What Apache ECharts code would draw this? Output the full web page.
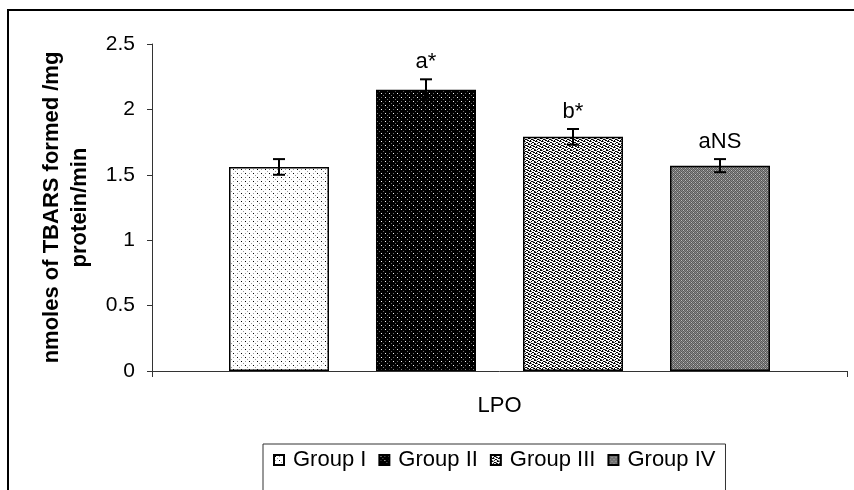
<!DOCTYPE html>
<html>
<head>
<meta charset="utf-8">
<script src="https://cdn.jsdelivr.net/npm/echarts@6/dist/echarts.min.js"></script>
<style>
  html, body { margin: 0; padding: 0; background: #fff; }
  #chart { width: 854px; height: 490px; }
</style>
</head>
<body>
<div id="chart"></div>
<script>
// LPO assay: TBARS formed per group, mean with standard error
const categories = ['LPO'];
const groups = ['Group I', 'Group II', 'Group III', 'Group IV'];
const means = [1.56, 2.15, 1.79, 1.57];
const errors = [0.06, 0.08, 0.06, 0.05];
const sigLabels = ['', 'a*', 'b*', 'aNS'];
const yTicks = [0, 0.5, 1, 1.5, 2, 2.5];

const FONT = "'Liberation Sans', Arial, sans-serif";
const BAR_W = 100;
const BAR_GAP = 47;

// Small tiled fills that give each group its stipple texture
function tile(size, bg, draw) {
  const c = document.createElement('canvas');
  c.width = size; c.height = size;
  const g = c.getContext('2d');
  g.fillStyle = bg;
  g.fillRect(0, 0, size, size);
  draw(g);
  return c;
}
function px(g, color, pts) {
  g.fillStyle = color;
  pts.forEach(p => g.fillRect(p[0], p[1], 1, 1));
}
const fills = [
  tile(8, '#ffffff', g => {
    px(g, '#000', [[1, 1], [5, 5]]);
    px(g, '#9a9a9a', [[1, 5], [5, 1], [3, 3], [7, 7]]);
  }),
  tile(8, '#000000', g => {
    px(g, '#ffffff', [[1, 1], [5, 5]]);
    px(g, '#6a6a6a', [[1, 5], [5, 1], [3, 3], [7, 7]]);
  }),
  tile(6, '#ffffff', g => {
    px(g, '#000', [[0, 0], [1, 0], [3, 1], [4, 1], [0, 2], [1, 3], [2, 3], [4, 4], [5, 4],
                   [3, 5], [2, 2], [5, 2], [0, 5]]);
    px(g, '#777', [[2, 0], [5, 1], [3, 3], [1, 5]]);
  }),
  tile(4, '#8a8a8a', g => {
    px(g, '#5a5a5a', [[0, 0], [2, 0], [1, 1], [3, 1], [0, 2], [2, 2], [1, 3], [3, 3]]);
    px(g, '#b8b8b8', [[1, 0], [3, 2]]);
  })
];

const barSeries = groups.map((name, i) => ({
  name: name,
  type: 'bar',
  barWidth: BAR_W,
  barGap: (BAR_GAP / BAR_W * 100) + '%',
  data: [means[i]],
  itemStyle: {
    color: { image: fills[i], repeat: 'repeat' },
    borderColor: '#000',
    borderWidth: 1.5
  },
  emphasis: { disabled: true },
  animation: false,
  z: 2
}));

const errData = means.map((m, i) => [0, m, errors[i], i]);

const errSeries = {
  type: 'custom',
  data: errData,
  z: 5,
  animation: false,
  renderItem: function (params, api) {
    const mean = api.value(1);
    const err = api.value(2);
    const gi = api.value(3);
    const center = api.coord([api.value(0), mean]);
    const cx = center[0] + (gi - 1.5) * (BAR_W + BAR_GAP);
    const yTop = api.coord([0, mean + err])[1];
    const yBot = api.coord([0, mean - err])[1];
    const cap = 6;
    const stroke = { stroke: '#000', lineWidth: 2 };
    const children = [
      { type: 'line', shape: { x1: cx, y1: yTop, x2: cx, y2: yBot }, style: stroke },
      { type: 'line', shape: { x1: cx - cap, y1: yTop, x2: cx + cap, y2: yTop }, style: stroke },
      { type: 'line', shape: { x1: cx - cap, y1: yBot, x2: cx + cap, y2: yBot }, style: stroke }
    ];
    const lbl = sigLabels[gi];
    if (lbl) {
      children.push({
        type: 'text',
        style: {
          text: lbl, x: cx, y: yTop - 6,
          align: 'center', verticalAlign: 'bottom',
          font: '22px ' + FONT, fill: '#000'
        }
      });
    }
    return { type: 'group', children: children };
  }
};

const chart = echarts.init(document.getElementById('chart'), null, { renderer: 'canvas' });
chart.setOption({
  backgroundColor: '#fff',
  animation: false,
  textStyle: { fontFamily: FONT },
  grid: { left: 152, right: 7, top: 44, bottom: 119, containLabel: false },
  graphic: [{
    type: 'rect',
    shape: { x: 8, y: 10, width: 860, height: 500 },
    style: { fill: null, stroke: '#000', lineWidth: 2 },
    silent: true,
    z: 0
  }],
  legend: {
    data: groups,
    left: 263,
    top: 444,
    orient: 'horizontal',
    padding: [5, 10, 40, 10],
    borderColor: '#333',
    borderWidth: 1,
    itemWidth: 10,
    itemHeight: 10,
    itemGap: 12,
    icon: 'rect',
    selectedMode: false,
    textStyle: { fontSize: 22, color: '#000', fontFamily: FONT, padding: [0, 0, 0, 4] }
  },
  xAxis: {
    type: 'category',
    data: categories,
    axisLine: { lineStyle: { color: '#333', width: 1 } },
    axisTick: { show: true, alignWithLabel: false, length: 6, lineStyle: { color: '#333' } },
    axisLabel: { fontSize: 22, color: '#000', margin: 24, fontFamily: FONT }
  },
  yAxis: {
    type: 'value',
    min: yTicks[0],
    max: yTicks[yTicks.length - 1],
    interval: yTicks[1] - yTicks[0],
    name: 'nmoles of TBARS formed /mg\nprotein/min',
    nameLocation: 'middle',
    nameRotate: 90,
    nameGap: 58,
    nameTextStyle: { fontSize: 22, fontWeight: 'bold', color: '#000', lineHeight: 28, fontFamily: FONT },
    axisLine: { show: true, lineStyle: { color: '#333', width: 1 } },
    axisTick: { show: true, length: 5, lineStyle: { color: '#333' } },
    splitLine: { show: false },
    axisLabel: {
      fontSize: 21, color: '#000', margin: 17, fontFamily: FONT,
      formatter: v => String(yTicks.find(t => Math.abs(t - v) < 1e-9))
    }
  },
  series: barSeries.concat([errSeries])
});
</script>
</body>
</html>
